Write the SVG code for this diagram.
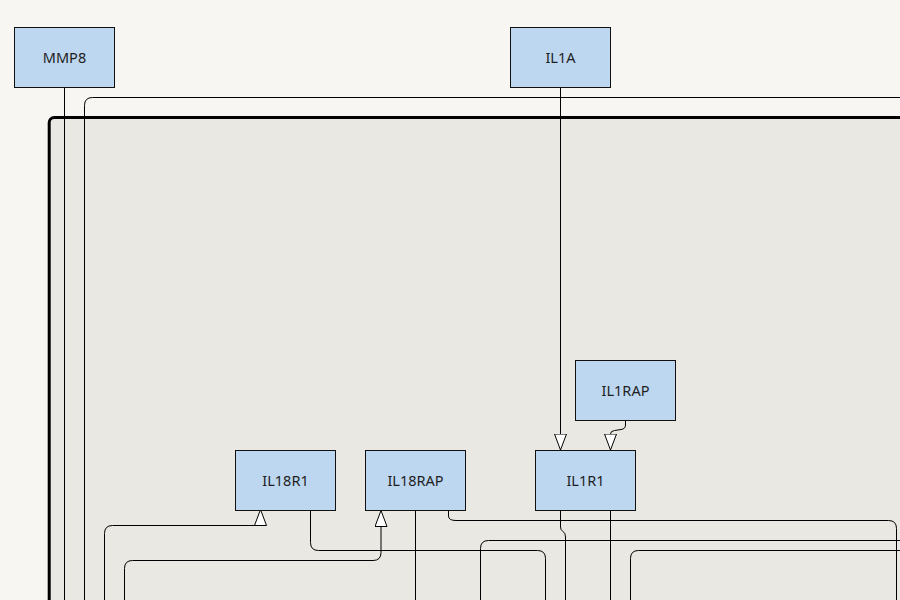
<svg xmlns="http://www.w3.org/2000/svg" width="900" height="600" viewBox="0 0 900 600">
  <style>
    .node rect { fill: #bdd7f1; stroke: #111; stroke-width: 1; }
    .node text { font-family: "Noto Sans", "Open Sans", sans-serif; font-size: 14.5px; fill: #1e1e1e; text-anchor: middle; }
    .edge { fill: none; stroke: #000; stroke-width: 1; }
  </style>
  <defs>
    <marker id="arr" viewBox="0 0 17 13" refX="0.5" refY="6.5" markerWidth="17" markerHeight="13" markerUnits="userSpaceOnUse" orient="auto">
      <path d="M0.5,0.5 L16.5,6.5 L0.5,12.5 Z" fill="#fff" stroke="#000" stroke-width="1"/>
    </marker>
    <marker id="arrUp" viewBox="0 0 17 13" refX="0.5" refY="6.5" markerWidth="17" markerHeight="13" markerUnits="userSpaceOnUse" orient="-90">
      <path d="M0.5,0.5 L16.5,6.5 L0.5,12.5 Z" fill="#fff" stroke="#000" stroke-width="1"/>
    </marker>
  </defs>
  <rect x="0" y="0" width="900" height="600" fill="#f7f6f3"/>
  <g id="compartment">
    <rect x="49.2" y="117.5" width="900" height="600" rx="5" fill="#e9e8e3" stroke="#000" stroke-width="3"/>
  </g>
  <g id="connectors">
    <path class="edge" d="M64.5 87.5 V600"/>
    <path class="edge" d="M84.5 600 V105.5 Q84.5 97.5 92.5 97.5 H900"/>
    <path class="edge" marker-end="url(#arr)" d="M560.5 87.5 V434"/>
    <path class="edge" marker-end="url(#arr)" d="M625.5 420.5 V425 Q625.5 429 621 429.5 L614.5 430.5 Q610.5 431 610.5 434"/>
    <path class="edge" marker-end="url(#arrUp)" d="M104.5 600 V533.5 Q104.5 525.5 112.5 525.5 H260.5"/>
    <path class="edge" marker-end="url(#arr)" d="M124.5 600 V568.5 Q124.5 560.5 132.5 560.5 H373 Q381 560.5 381 552.5 V526.5"/>
    <path class="edge" d="M310.5 510.5 V542.5 Q310.5 550.5 318.5 550.5 H537.5 Q545.5 550.5 545.5 558.5 V600"/>
    <path class="edge" d="M415.5 510.5 V600"/>
    <path class="edge" d="M448.5 510.5 V516 Q448.5 520.5 456 520.5 H888.5 Q896.5 520.5 896.5 528.5 V600"/>
    <path class="edge" d="M900 540.5 H488.5 Q480.5 540.5 480.5 548.5 V600"/>
    <path class="edge" d="M900 550.5 H638.5 Q630.5 550.5 630.5 558.5 V600"/>
    <path class="edge" d="M560.5 510.5 V527 Q560.5 530 563 531.5 Q565.5 533 565.5 537 V600"/>
    <path class="edge" d="M610.5 510.5 V600"/>
  </g>
  <g id="MMP8" class="node">
    <rect x="14.5" y="27.5" width="100" height="60"/>
    <text x="64.5" y="63">MMP8</text>
  </g>
  <g id="IL1A" class="node">
    <rect x="510.5" y="27.5" width="100" height="60"/>
    <text x="560.5" y="63">IL1A</text>
  </g>
  <g id="IL1RAP" class="node">
    <rect x="575.5" y="360.5" width="100" height="60"/>
    <text x="625.5" y="396">IL1RAP</text>
  </g>
  <g id="IL18R1" class="node">
    <rect x="235.5" y="450.5" width="100" height="60"/>
    <text x="285.5" y="486">IL18R1</text>
  </g>
  <g id="IL18RAP" class="node">
    <rect x="365.5" y="450.5" width="100" height="60"/>
    <text x="415.5" y="486">IL18RAP</text>
  </g>
  <g id="IL1R1" class="node">
    <rect x="535.5" y="450.5" width="100" height="60"/>
    <text x="585.5" y="486">IL1R1</text>
  </g>
</svg>
